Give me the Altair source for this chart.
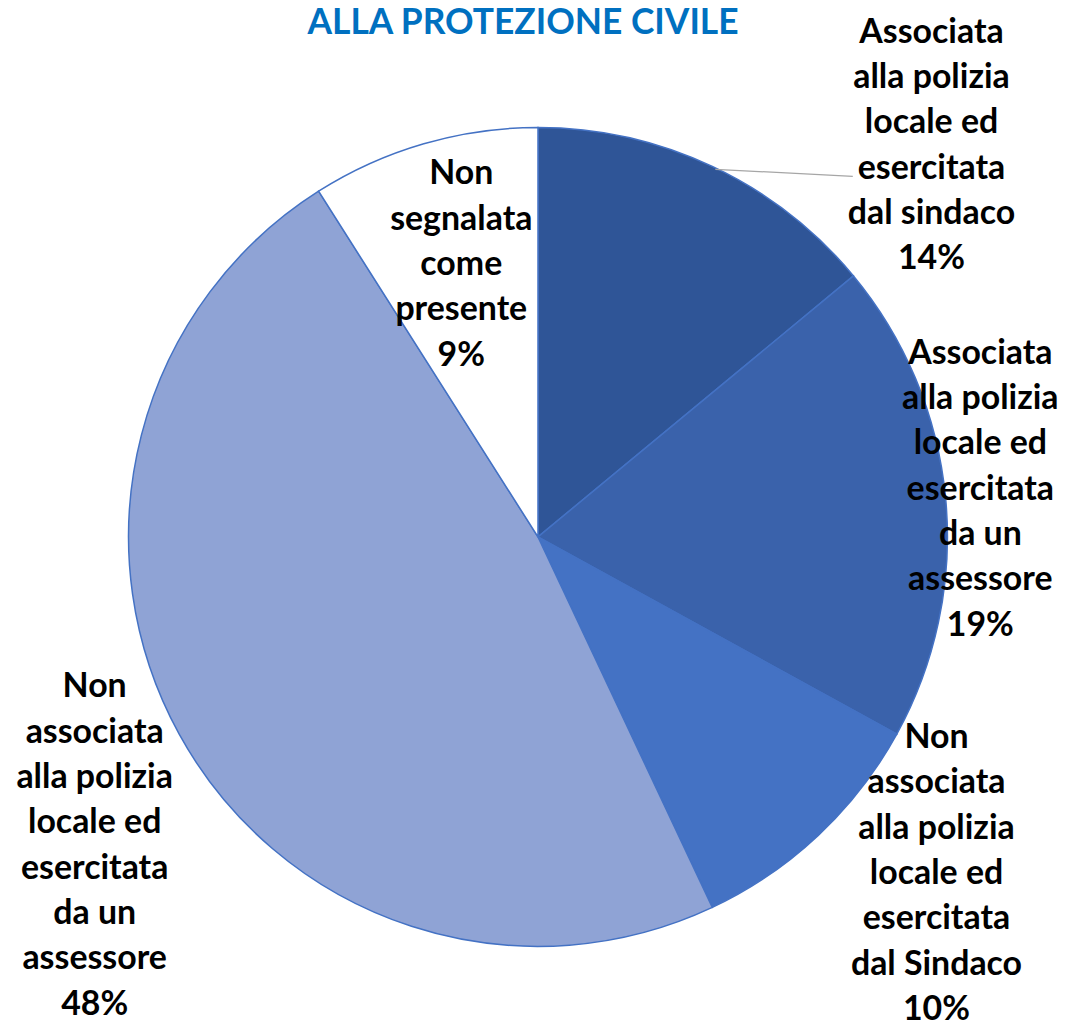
import altair as alt
import pandas as pd

categories = [
    "Associata alla polizia locale ed esercitata dal sindaco",
    "Associata alla polizia locale ed esercitata da un assessore",
    "Non associata alla polizia locale ed esercitata dal Sindaco",
    "Non associata alla polizia locale ed esercitata da un assessore",
    "Non segnalata come presente",
]
values = [14, 19, 10, 48, 9]
pct_labels = ["14%", "19%", "10%", "48%", "9%"]
label_texts = [
    "Associata\nalla polizia\nlocale ed\nesercitata\ndal sindaco",
    "Associata\nalla polizia\nlocale ed\nesercitata\nda un\nassessore",
    "Non\nassociata\nalla polizia\nlocale ed\nesercitata\ndal Sindaco",
    "Non\nassociata\nalla polizia\nlocale ed\nesercitata\nda un\nassessore",
    "Non\nsegnalata\ncome\npresente",
]
title_text = "ALLA PROTEZIONE CIVILE"

# layout (chart pixel coordinates)
colors = ["#2F5597", "#3A62AB", "#4472C4", "#8FA3D5", "#FFFFFF"]
label_x = [927, 976, 932, 87, 455]
label_y = [33, 355, 741, 690, 175]
cx, cy, R = 532, 529, 411

df = pd.DataFrame({
    "cat": categories,
    "value": values,
    "order": list(range(len(values))),
})

lab = pd.DataFrame({
    "text": [t + "\n" + p for t, p in zip(label_texts, pct_labels)],
    "lx": label_x,
    "ly": label_y,
})

pie = alt.Chart(df).mark_arc(radius=R, stroke="#4472C4", strokeWidth=1.5).encode(
    theta=alt.Theta("value:Q", stack=True),
    color=alt.Color("cat:N", scale=alt.Scale(domain=categories, range=colors), legend=None),
    order=alt.Order("order:Q"),
    x=alt.value(cx),
    y=alt.value(cy),
)

leader = alt.Chart(pd.DataFrame({"a": [0]})).mark_rule(color="#A6A6A6", strokeWidth=1.2).encode(
    x=alt.value(710), y=alt.value(160), x2=alt.value(848), y2=alt.value(167)
)

labels = alt.Chart(lab).mark_text(
    font="Lato", fontSize=34, fontWeight="bold", color="#000000",
    lineBreak="\n", lineHeight=45.5, align="center", baseline="alphabetic",
).encode(
    x=alt.X("lx:Q", scale=None),
    y=alt.Y("ly:Q", scale=None),
    text="text:N",
)

title = alt.Chart(pd.DataFrame({"t": [title_text]})).mark_text(
    font="Lato", fontSize=35.5, fontWeight="bold", color="#0070C0",
    align="center", baseline="alphabetic",
).encode(x=alt.value(517), y=alt.value(24), text="t:N")

chart = alt.layer(pie, leader, labels, title).properties(
    width=1060, height=1013, autosize="none", padding=0
).configure_view(stroke=None)

chart.save("out.html", embed_options={"renderer": "svg", "actions": False})
